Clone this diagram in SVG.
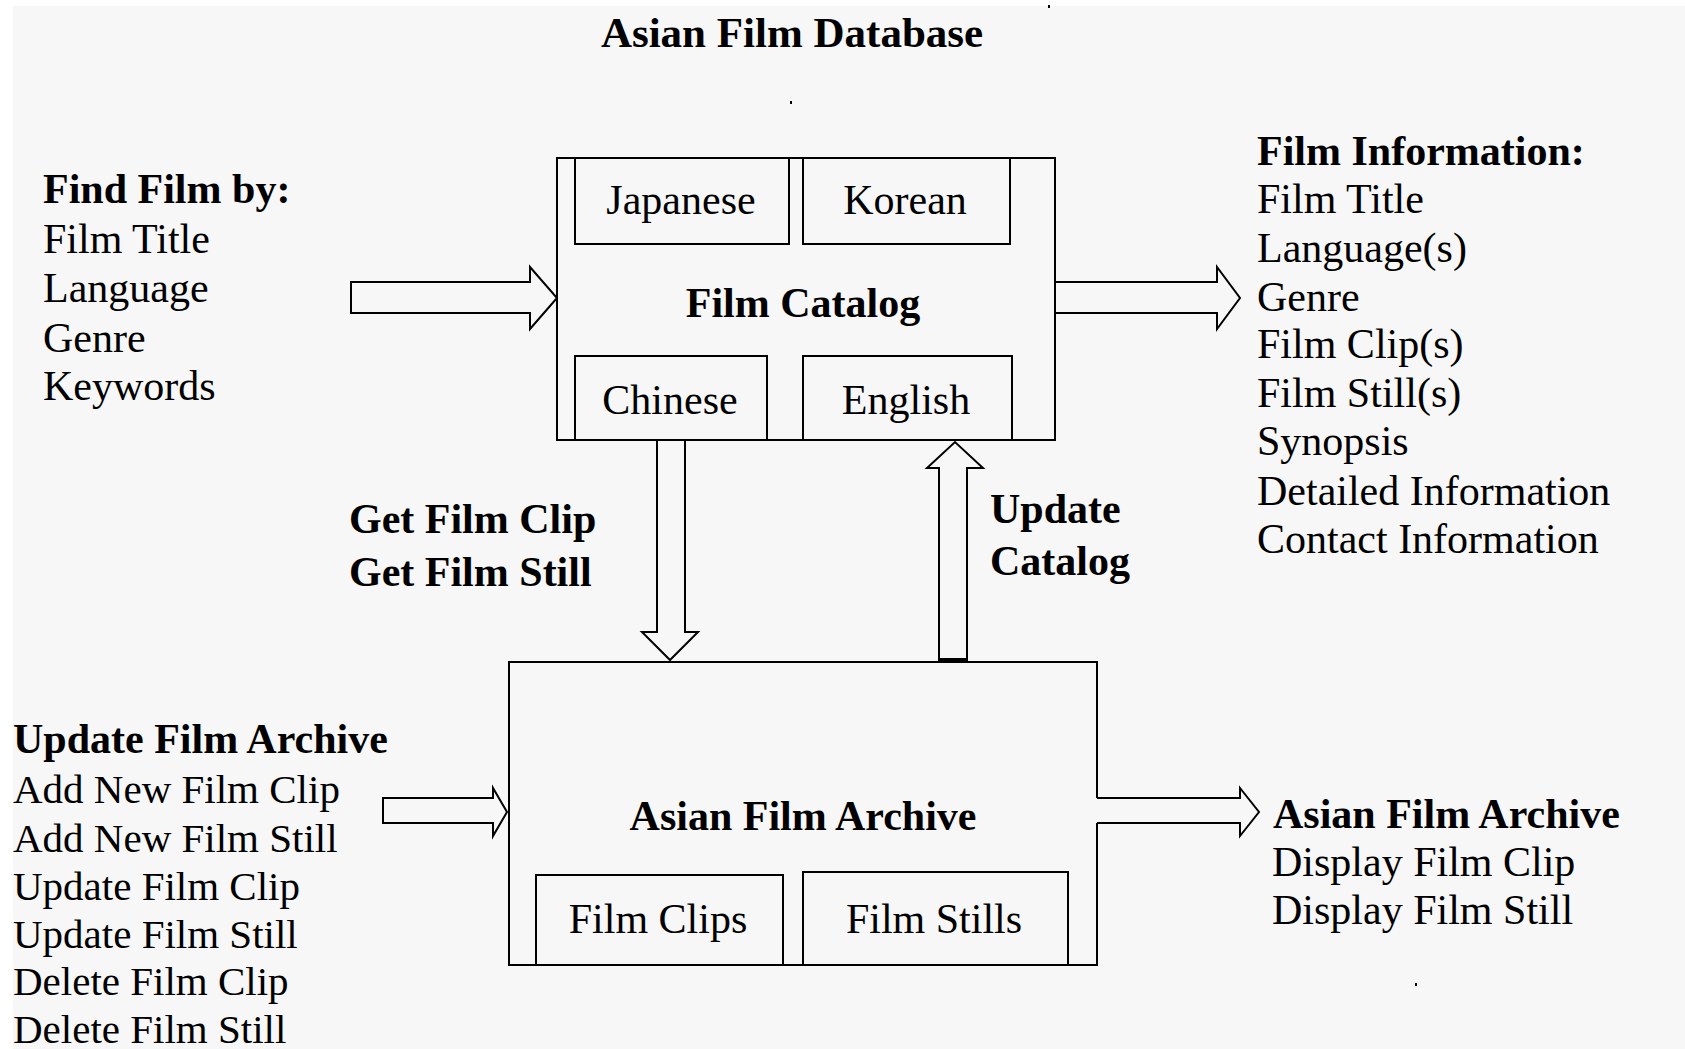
<svg xmlns="http://www.w3.org/2000/svg" width="1685" height="1049" viewBox="0 0 1685 1049">
<style>
  .t { font-family: "Liberation Serif", "Times New Roman", serif; font-size: 42px; fill: #000; }
  .b { font-weight: bold; }
  .m { text-anchor: middle; }
  .s { font-size: 41px; }
  .box { fill: none; stroke: #000; stroke-width: 2; }
  .arr { fill: none; stroke: #000; stroke-width: 2; stroke-linejoin: miter; }
</style>
<rect x="0" y="0" width="1685" height="1049" fill="#ffffff"/>
<rect x="13" y="6" width="1672" height="1043" fill="#f7f7f7"/>
<rect x="1048" y="5" width="2" height="3" fill="#000"/>
<rect x="790" y="101" width="2" height="3" fill="#000"/>
<rect x="1415" y="983" width="2" height="3" fill="#000"/>

<text class="t b m" x="792" y="47" style="font-size:43px">Asian Film Database</text>

<g id="find-film">
  <text class="t b" x="43" y="203">Find Film by:</text>
  <text class="t" x="43" y="253">Film Title</text>
  <text class="t" x="43" y="302">Language</text>
  <text class="t" x="43" y="352">Genre</text>
  <text class="t" x="43" y="400">Keywords</text>
</g>

<g id="film-catalog">
  <rect class="box" x="557" y="158" width="498" height="282"/>
  <text class="t b m" x="803" y="317">Film Catalog</text>
  <g id="japanese">
    <rect class="box" x="575" y="158" width="214" height="86"/>
    <text class="t m" x="681" y="214">Japanese</text>
  </g>
  <g id="korean">
    <rect class="box" x="803" y="158" width="207" height="86"/>
    <text class="t m" x="905" y="214">Korean</text>
  </g>
  <g id="chinese">
    <rect class="box" x="575" y="356" width="192" height="84"/>
    <text class="t m" x="670" y="414">Chinese</text>
  </g>
  <g id="english">
    <rect class="box" x="803" y="356" width="209" height="84"/>
    <text class="t m" x="906" y="414">English</text>
  </g>
</g>

<g id="film-information">
  <text class="t b" x="1257" y="165">Film Information:</text>
  <text class="t" x="1257" y="213">Film Title</text>
  <text class="t" x="1257" y="262">Language(s)</text>
  <text class="t" x="1257" y="311">Genre</text>
  <text class="t" x="1257" y="358">Film Clip(s)</text>
  <text class="t" x="1257" y="407">Film Still(s)</text>
  <text class="t" x="1257" y="455">Synopsis</text>
  <text class="t" x="1257" y="505">Detailed Information</text>
  <text class="t" x="1257" y="553">Contact Information</text>
</g>

<g id="get-film">
  <text class="t b" x="349" y="533">Get Film Clip</text>
  <text class="t b" x="349" y="586">Get Film Still</text>
</g>

<g id="update-catalog">
  <text class="t b" x="990" y="523">Update</text>
  <text class="t b" x="990" y="575">Catalog</text>
</g>

<g id="asian-film-archive">
  <path class="box" d="M1097,798 V662 H509 V965 H1097 V823"/>
  <text class="t b m" x="803" y="830">Asian Film Archive</text>
  <g id="film-clips">
    <rect class="box" x="536" y="875" width="247" height="90"/>
    <text class="t m" x="658" y="933">Film Clips</text>
  </g>
  <g id="film-stills">
    <rect class="box" x="803" y="872" width="265" height="93"/>
    <text class="t m" x="934" y="933">Film Stills</text>
  </g>
</g>

<g id="update-film-archive">
  <text class="t b" x="13" y="753">Update Film Archive</text>
  <text class="t s" x="13" y="803">Add New Film Clip</text>
  <text class="t s" x="13" y="852">Add New Film Still</text>
  <text class="t s" x="13" y="900">Update Film Clip</text>
  <text class="t s" x="13" y="948">Update Film Still</text>
  <text class="t s" x="13" y="995">Delete Film Clip</text>
  <text class="t s" x="13" y="1043">Delete Film Still</text>
</g>

<g id="archive-output">
  <text class="t b" x="1273" y="828">Asian Film Archive</text>
  <text class="t" x="1272" y="876">Display Film Clip</text>
  <text class="t" x="1272" y="924">Display Film Still</text>
</g>

<g id="connectors">
  <polygon class="arr" points="351,282 530,282 530,267 557,298 530,329 530,313 351,313"/>
  <polyline class="arr" points="1055,282 1217,282 1217,267 1240,298 1217,329 1217,313 1055,313"/>
  <polyline class="arr" points="657,440 657,632 642,632 670,660 698,632 685,632 685,440"/>
  <polyline class="arr" points="939,661 939,468 927,468 955,442 983,468 967,468 967,661"/>
  <line x1="939" y1="660" x2="967" y2="660" stroke="#000" stroke-width="4"/>
  <polygon class="arr" points="383,798 493,798 493,788 507,812 493,836 493,823 383,823"/>
  <polyline class="arr" points="1097,798 1240,798 1240,788 1259,812 1240,836 1240,823 1097,823"/>
</g>
</svg>
